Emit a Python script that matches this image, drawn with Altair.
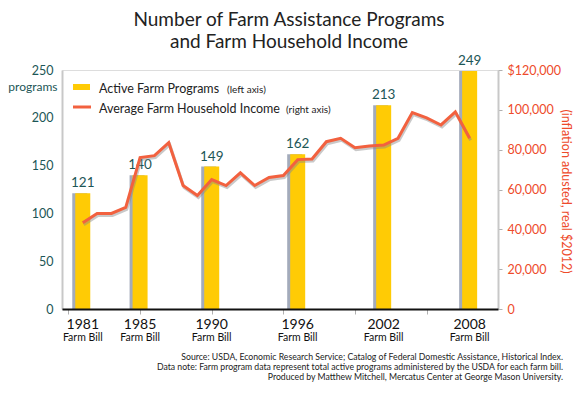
import altair as alt
import pandas as pd

# ---- data ----
bill_years = [1981, 1985, 1990, 1996, 2002, 2008]
programs = [121, 140, 149, 162, 213, 249]
bill_captions = ["1981", "1985", "1990", "1996", "2002", "2008"]

income_years = [1981, 1982, 1983, 1984, 1985, 1986, 1987, 1988, 1989, 1990,
                1991, 1992, 1993, 1994, 1995, 1996, 1997, 1998, 1999, 2000,
                2001, 2002, 2003, 2004, 2005, 2006, 2007, 2008]
income = [43300, 48000, 48000, 51000, 76000, 77000, 83500, 62000, 57000, 65000,
          62000, 68400, 62000, 66000, 67000, 75000, 75300, 84000, 85700, 81000,
          81800, 82300, 85700, 98600, 96000, 92400, 99000, 85700]

left_ticks = [0, 50, 100, 150, 200, 250]
right_ticks = [0, 20000, 40000, 60000, 80000, 100000, 120000]
x_ticks = [1980, 1985, 1990, 1995, 2000, 2005]

title_lines = ["Number of Farm Assistance Programs", "and Farm Household Income"]
footer_lines = [
    "Source: USDA, Economic Research Service; Catalog of Federal Domestic Assistance, Historical Index.",
    "Data note: Farm program data represent total active programs administered by the USDA for each farm bill.",
    "Produced by Matthew Mitchell, Mercatus Center at George Mason University.",
]

FONT = "Lato"
TEAL = "#1c5656"
RED = "#ee4b2b"
LINE = "#f2613f"
YELLOW = "#ffcb05"

bars_df = pd.DataFrame({"year": bill_years, "programs": programs,
                        "label": [str(p) for p in programs], "cap": bill_captions})
inc_df = pd.DataFrame({"year": income_years, "income": income})
one = alt.Data(values=[{"k": 1}])

W, H = 436, 239
xscale = alt.Scale(domain=[1979.9, 2009.63], nice=False, zero=False)
yl = alt.Scale(domain=[0, 250], nice=False)
yr = alt.Scale(domain=[0, 120000], nice=False)

x_axis = alt.Axis(values=x_ticks, labels=False, title=None, domainColor="#111",
                  domainWidth=2, tickColor="#b0b0b0", tickSize=5, grid=False, zindex=1)
left_axis = alt.Axis(values=left_ticks, title="programs", titleAngle=0, titleAlign="right",
                     titleX=-5, titleY=20, titleBaseline="alphabetic", titleFont=FONT,
                     titleFontSize=12, titleFontWeight="normal", titleColor=TEAL,
                     labelColor=TEAL, labelFont=FONT, labelFontSize=12.5, ticks=False,
                     labelPadding=9, domainColor="#c8c8c8", domainWidth=2, grid=False)
right_axis = alt.Axis(orient="right", values=right_ticks,
                      labelExpr="datum.value == 120000 ? '$120,000' : format(datum.value, ',')",
                      labelColor=RED, labelFont=FONT, labelFontSize=12.5, tickSize=4,
                      tickColor="#b0b0b0", domainColor="#c8c8c8", domainWidth=2,
                      labelPadding=5, title="(inflation adusted, real $2012)",
                      titleColor=RED, titleFont=FONT, titleFontSize=12.5,
                      titleFontWeight="normal", titleAngle=90, titleX=67, titleY=121,
                      titleAlign="center", titleBaseline="middle", grid=False)

X = alt.X("year:Q", scale=xscale, axis=x_axis)

bar_shadow = alt.Chart(bars_df).mark_bar(size=15, color="#a3abbb", xOffset=-3).encode(
    x=X, y=alt.Y("programs:Q", scale=yl, axis=left_axis))
bars = alt.Chart(bars_df).mark_bar(size=15, color=YELLOW).encode(
    x=X, y=alt.Y("programs:Q", scale=yl, axis=left_axis))
bar_labels = alt.Chart(bars_df).mark_text(dy=-6, baseline="alphabetic", font=FONT,
                                          fontSize=13.5, color=TEAL).encode(
    x=X, y=alt.Y("programs:Q", scale=yl, axis=left_axis), text="label:N")
year_caps = alt.Chart(bars_df).mark_text(baseline="alphabetic", font=FONT, fontSize=14,
                                         color="#111").encode(
    x=X, y=alt.value(H + 20), text="cap:N")
farm_bill = alt.Chart(bars_df).mark_text(baseline="alphabetic", font=FONT, fontSize=10.5,
                                         color="#111", text="Farm Bill").encode(
    x=X, y=alt.value(H + 32))

left = alt.layer(bar_shadow, bars, bar_labels, year_caps, farm_bill)

line_shadow = alt.Chart(inc_df).mark_line(color="#888", strokeWidth=3, opacity=0.45,
                                          xOffset=1, yOffset=2).encode(
    x=X, y=alt.Y("income:Q", scale=yr, axis=right_axis))
line = alt.Chart(inc_df).mark_line(color=LINE, strokeWidth=3).encode(
    x=X, y=alt.Y("income:Q", scale=yr, axis=right_axis))
right = alt.layer(line_shadow, line)

title = alt.Chart(one).mark_text(text=title_lines, lineHeight=22, font=FONT, fontSize=19,
                                 color="#222", baseline="alphabetic", align="center").encode(
    x=alt.value(227), y=alt.value(-44))
leg_rect = alt.Chart(one).mark_rect(color=YELLOW).encode(
    x=alt.value(11), x2=alt.value(28), y=alt.value(14), y2=alt.value(20))
leg_line = alt.Chart(one).mark_rule(color=LINE, strokeWidth=3).encode(
    x=alt.value(11), x2=alt.value(29), y=alt.value(37))
leg_t1 = alt.Chart(one).mark_text(text="Active Farm Programs", font=FONT, fontSize=12.5,
                                  color="#222", align="left", baseline="alphabetic").encode(
    x=alt.value(37), y=alt.value(23))
leg_t1b = alt.Chart(one).mark_text(text="(left axis)", font=FONT, fontSize=10,
                                   color="#222", align="left", baseline="alphabetic").encode(
    x=alt.value(165), y=alt.value(23))
leg_t2 = alt.Chart(one).mark_text(text="Average Farm Household Income", font=FONT, fontSize=12.5,
                                  color="#222", align="left", baseline="alphabetic").encode(
    x=alt.value(37), y=alt.value(43))
leg_t2b = alt.Chart(one).mark_text(text="(right axis)", font=FONT, fontSize=10,
                                   color="#222", align="left", baseline="alphabetic").encode(
    x=alt.value(224), y=alt.value(43))
footer = alt.Chart(one).mark_text(text=footer_lines, lineHeight=10, font=FONT, fontSize=8.7,
                                  color="#222", align="right", baseline="alphabetic").encode(
    x=alt.value(501), y=alt.value(290))

chart = alt.layer(left, right, title, leg_rect, leg_line, leg_t1, leg_t1b, leg_t2, leg_t2b,
                  footer).resolve_scale(y="independent").properties(
    width=W, height=H,
    autosize=alt.AutoSizeParams(type="none"),
    padding={"left": 54, "top": 62, "right": 79, "bottom": 81},
).configure_view(stroke=None).configure(background="white")

chart.save("out.html", embed_options={"renderer": "svg", "actions": False})
